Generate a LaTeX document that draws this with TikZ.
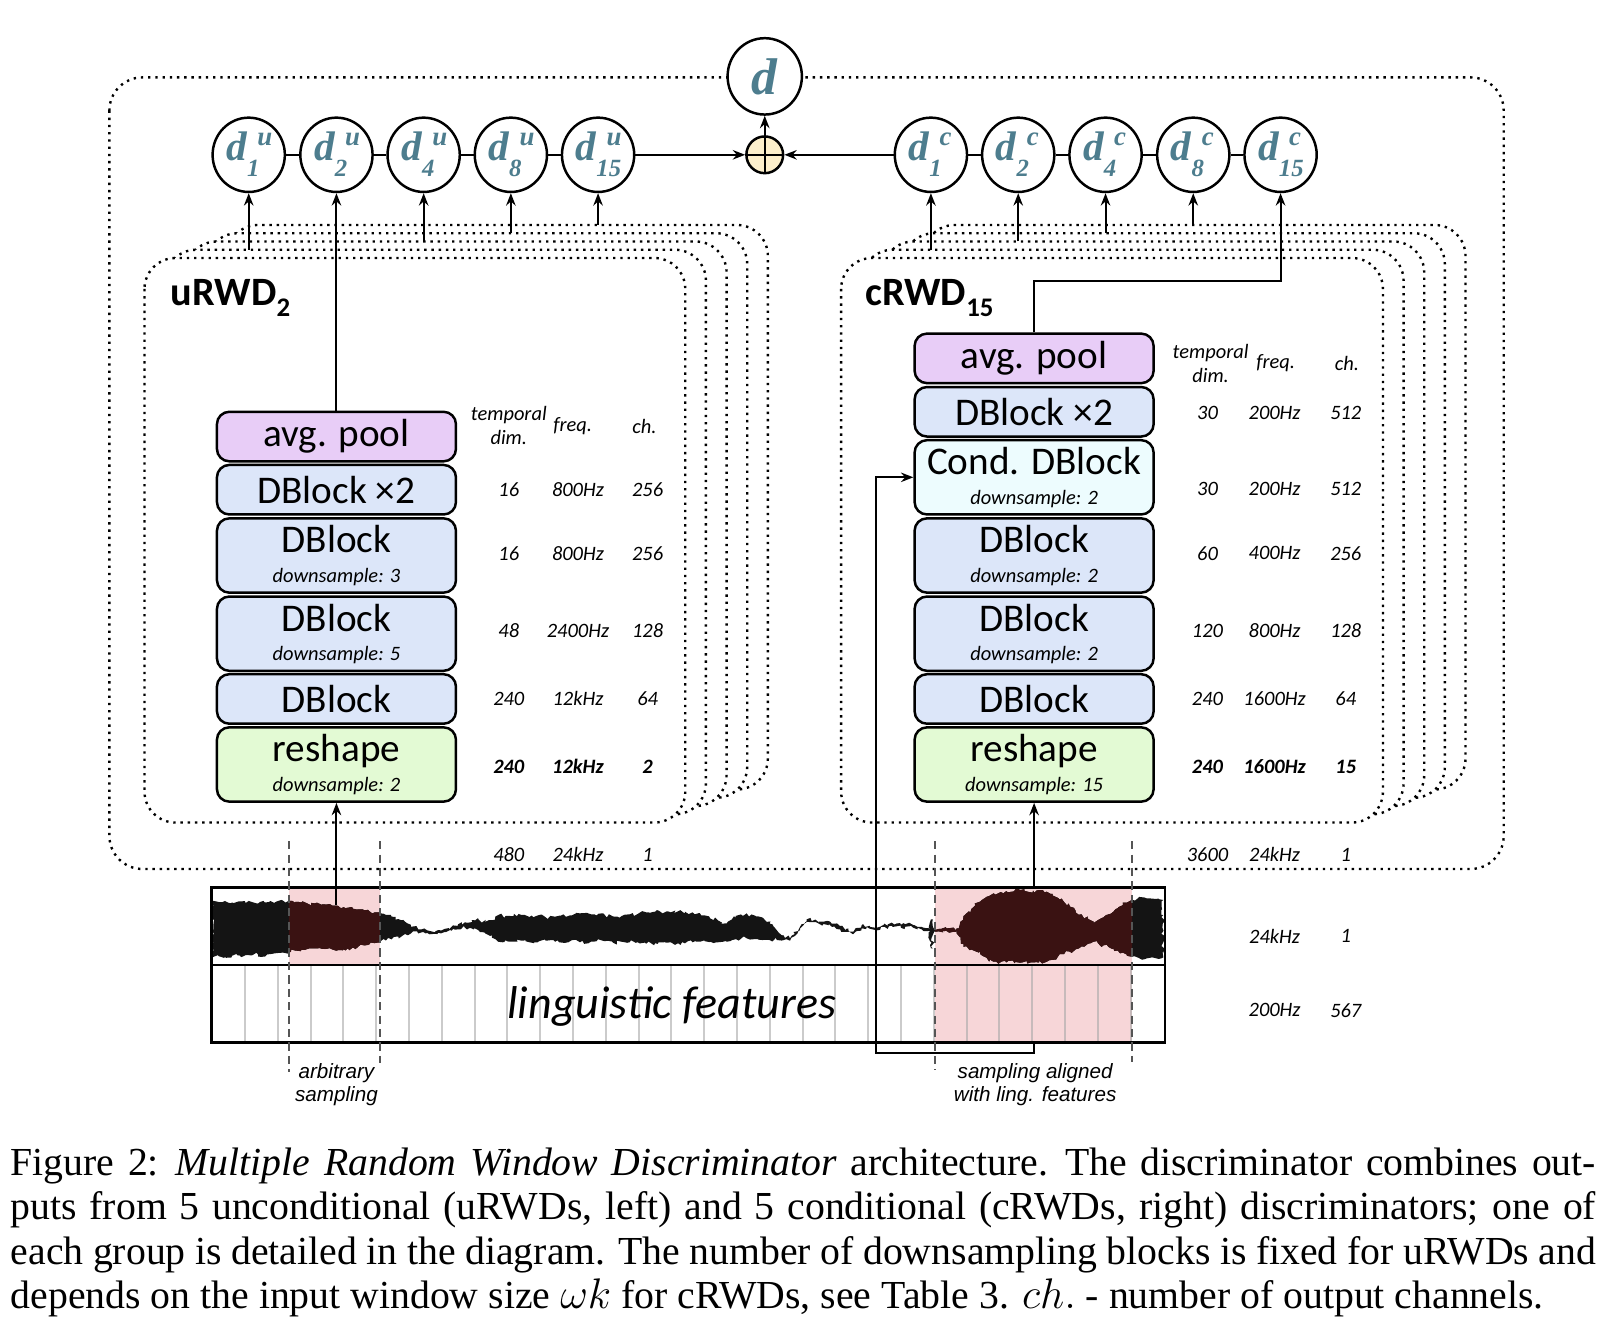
\documentclass[tikz,border=0pt]{standalone}
\usepackage{fontspec}
\setmainfont{Liberation Serif}
\newfontfamily\carl{Carlito}
\newfontfamily\arl{Liberation Sans}
\usetikzlibrary{arrows.meta,shapes.geometric,decorations.pathmorphing}
\definecolor{cpurple}{HTML}{E8CDF7}
\definecolor{cblue}{HTML}{DCE6F9}
\definecolor{ccyan}{HTML}{EDFCFE}
\definecolor{cgreen}{HTML}{E3FAD4}
\definecolor{cpink}{HTML}{F7D6D8}
\definecolor{cteal}{HTML}{4D7D8E}
\definecolor{cyel}{HTML}{FCEFCB}
\definecolor{cwave}{HTML}{141414}
\definecolor{cbrown}{HTML}{3A1212}
\definecolor{cgrid}{HTML}{A8A8A8}
\definecolor{cdash}{HTML}{555555}
\newcommand\dtxt[2]{{\fontsize{20}{20}\selectfont d}\rlap{\hspace{5pt}\raisebox{7.5pt}{\fontsize{13}{13}\selectfont #1}}\raisebox{-7.5pt}{\fontsize{12}{12}\selectfont #2}}
\newcommand\capline[1]{{\spaceskip=0.25em plus 0.2em minus 0.16em\xspaceskip=0.33em plus 0.2em minus 0.16em\makebox[768pt][s]{#1}}}
\newcommand\wavepath{(205.7,872.7) -- (212,874) -- (218,873) -- (225,874.5) -- (231,873.5) -- (238,875) -- (244,874) -- (250,875.5) -- (256.7,874.5) -- (262,873) -- (268,873.5) -- (274,872.5) -- (279.4,873) -- (286,874) -- (292,874.5) -- (298,875.5) -- (305,875.3) -- (311,876.5) -- (316,876.5) -- (322,877.5) -- (327.8,877.9) -- (333,879) -- (337,879.5) -- (342,880.5) -- (347,881.1) -- (353,882) -- (358,883) -- (363,884) -- (368.2,885) -- (374,886.5) -- (379.5,888.2) -- (386,890.5) -- (392.4,893.1) -- (398,896) -- (405.3,900.5) -- (414,901.5) -- (424.7,901.2) -- (431,900) -- (437.6,898) -- (444,895.5) -- (450.5,893.7) -- (457,891.5) -- (463.5,890.8) -- (470,893) -- (476.4,891.5) -- (480,888) -- (482.8,886.6) -- (490,887.5) -- (498,885.5) -- (505.5,886.6) -- (513,888.5) -- (521,887) -- (529,889) -- (537.8,888.2) -- (546,886) -- (554,887) -- (562,885) -- (570,885) -- (578,887) -- (586,886.5) -- (594,888) -- (602.3,887.6) -- (610,886) -- (618,885.5) -- (626,884) -- (634.7,883.4) -- (642,885) -- (650,884) -- (657,883) -- (663.7,883.4) -- (671,884) -- (678.3,885) -- (683,887) -- (688,889.8) -- (696,892) -- (704.1,894.7) -- (709,891) -- (713,889) -- (718,886) -- (723.5,885) -- (727,887) -- (731,887) -- (735,888) -- (739.7,889.8) -- (746,895) -- (752.6,901.2) -- (759,906) -- (765.5,909.2) -- (770,905) -- (775.2,898) -- (781.6,890.8) -- (790,891) -- (797.8,893.1) -- (806,895) -- (814,897.3) -- (820,900) -- (826.9,902.8) -- (831,899) -- (835,896.3) -- (843,897) -- (849,899) -- (852.7,898) -- (857,895) -- (860,897) -- (864,894) -- (868.9,894.7) -- (873,896) -- (877,895.5) -- (885,896.3) -- (893,898) -- (901.2,899.5) -- (902,890.8) -- (903.8,890.8) -- (904.6,899.5) -- (910,900) -- (917,899.5) -- (927,899.5) -- (930,896) -- (933.5,888.2) -- (941,881) -- (949.6,873.7) -- (956,869) -- (962.5,865.6) -- (975,863.5) -- (988.4,862.4) -- (1001,863) -- (1014.2,864) -- (1020,866) -- (1025,870) -- (1031,874) -- (1036.8,878.5) -- (1042,882) -- (1048,886) -- (1054,890) -- (1059.4,894.7) -- (1064,891.5) -- (1069,889) -- (1074,886) -- (1078.8,883.4) -- (1083,880) -- (1088,877) -- (1092,874.5) -- (1096.6,872) -- (1103,870) -- (1111,870.5) -- (1120,871) -- (1127.2,872) -- (1127.2,927.6) -- (1120,928.5) -- (1111,928.6) -- (1103,928) -- (1096.6,927) -- (1092,925) -- (1088,923) -- (1083,921) -- (1078.8,918.9) -- (1074,917.5) -- (1069,916) -- (1064,914) -- (1059.4,912.5) -- (1054,914.5) -- (1048,917) -- (1042,920) -- (1036.8,922.1) -- (1031,924.5) -- (1025,927) -- (1020,930) -- (1014.2,931.8) -- (1001,932.5) -- (988.4,932.8) -- (975,932.5) -- (962.5,931.8) -- (956,928) -- (949.6,922.1) -- (941,920) -- (933.5,917.3) -- (930,908) -- (927,902) -- (917,902) -- (910,902.5) -- (904.6,902) -- (903.8,918.9) -- (902,918.9) -- (901.2,902) -- (893,900.5) -- (885,899) -- (877,898) -- (873,899) -- (868.9,897.5) -- (864,897) -- (860,900) -- (857,898) -- (852.7,901) -- (849,901.5) -- (843,900) -- (835,899.5) -- (831,902) -- (826.9,905) -- (820,903) -- (814,900.5) -- (806,898) -- (797.8,895.3) -- (790,893.5) -- (781.6,893.1) -- (775.2,901.2) -- (770,907) -- (765.5,911.5) -- (759,911) -- (752.6,910.8) -- (746,911) -- (739.7,910.8) -- (735,910.5) -- (731,910) -- (727,910.5) -- (723.5,909.2) -- (718,909.5) -- (713,910) -- (709,911) -- (704.1,912.5) -- (696,913) -- (688,912.5) -- (683,912) -- (678.3,912.5) -- (671,913) -- (663.7,914) -- (657,914) -- (650,913) -- (642,913) -- (634.7,914) -- (626,914.5) -- (618,913) -- (610,913) -- (602.3,912.5) -- (594,913.5) -- (586,912) -- (578,912) -- (570,914) -- (562,913) -- (554,911) -- (546,913.5) -- (537.8,912.5) -- (529,911.5) -- (521,913) -- (513,913) -- (505.5,911.5) -- (498,912.5) -- (490,911) -- (482.8,912.5) -- (480,910) -- (476.4,906) -- (470,904) -- (463.5,901.2) -- (457,899.5) -- (450.5,898.9) -- (444,900.5) -- (437.6,901.8) -- (431,903) -- (424.7,903.7) -- (414,904) -- (405.3,904.4) -- (398,904.6) -- (392.4,905) -- (386,907.5) -- (379.5,910.2) -- (374,911.3) -- (368.2,912.5) -- (363,913.8) -- (358,915) -- (353,916) -- (347,917.3) -- (342,918) -- (337,919) -- (333,919.8) -- (327.8,920.5) -- (322,920) -- (316,919.5) -- (311,919.2) -- (305,919) -- (298,919.5) -- (292,920.5) -- (286,921) -- (279.4,922.1) -- (274,923) -- (268,923.5) -- (262,924.5) -- (256.7,927) -- (250,925) -- (244,925.8) -- (238,925.5) -- (231,926.3) -- (225,926) -- (218,927) -- (212,926.5) -- (205.7,927.6) -- cycle}
\begin{document}
\begin{tikzpicture}[x=0.5pt,y=-0.5pt,
  dotline/.style={line width=1.15pt, dash pattern=on 1.15pt off 2.35pt},
  arr/.style={line width=1pt, -{Stealth[length=6pt,width=4.6pt,inset=2pt]}},
  plainln/.style={line width=1pt},
  blk/.style={draw, line width=1.2pt, rounded corners=6pt, minimum width=115.8pt, inner sep=0pt, font=\carl\fontsize{19}{19}\selectfont},
  sgl/.style={blk, minimum height=24pt},
  dbl/.style={blk, minimum height=36pt},
  maintxt/.style={anchor=base, inner sep=0pt, font=\carl\fontsize{19}{19}\selectfont},
  subtxt/.style={anchor=base, inner sep=0pt, font=\carl\itshape\fontsize{9.9}{11}\selectfont},
  tabtxt/.style={inner sep=0pt, font=\carl\itshape\fontsize{9.9}{11.5}\selectfont, align=center},
  tabbold/.style={inner sep=0pt, font=\carl\bfseries\itshape\fontsize{9.9}{11.5}\selectfont},
  dc/.style={draw, ellipse, line width=1.2pt, fill=white, minimum width=35pt, minimum height=36pt, inner sep=0pt},
  dlab/.style={anchor=base west, inner sep=0pt, text=cteal, font=\rmfamily\bfseries\itshape},
  lbl/.style={anchor=base, inner sep=0pt, font=\arl\itshape\fontsize{10}{11}\selectfont},
  dsh/.style={cdash, line width=0.9pt, dash pattern=on 4pt off 2.5pt},
  capt/.style={anchor=base west, inner sep=0pt, font=\rmfamily\fontsize{19.25}{21.4}\selectfont},
  ttl/.style={anchor=base west, inner sep=0pt, font=\carl\bfseries\fontsize{19.5}{19.5}\selectfont},
  wavedeco/.style={decorate, decoration={random steps,segment length=1.3pt,amplitude=1.05pt}}
]
\useasboundingbox (0,0) rectangle (1560,1289);

% outer dotted frame
\draw[dotline, rounded corners=16pt] (106,75) rectangle (1457,842);

% stacked discriminator frames
\foreach \i in {4,3,2,1} {
  \draw[dotline, fill=white, rounded corners=15pt] ({140+20*\i},{250-8*\i}) rectangle ({664+20*\i},{797-8*\i});
  \draw[dotline, fill=white, rounded corners=15pt] ({815+20*\i},{250-8*\i}) rectangle ({1340+20*\i},{797-8*\i});
}
\draw[dotline, fill=white, rounded corners=15pt] (140,250) rectangle (664,797);
\draw[dotline, fill=white, rounded corners=15pt] (815,250) rectangle (1340,797);

\node[ttl] (ut) at (165,296) {uRWD\raisebox{-5.5pt}{\fontsize{13}{13}\selectfont 2}};
\node[ttl] (ct) at (838,296) {cRWD\raisebox{-5.5pt}{\fontsize{13}{13}\selectfont 15}};

% output circles
\foreach \n/\x in {1/241, 2/326, 4/410.5, 8/495, 15/579.5} {
  \node[dc] (du\n) at (\x,150) {};
  \node[dlab] (tu\n) at ([xshift=-11pt,yshift=-2.9pt]du\n.center) {\dtxt{u}{\n}};
}
\foreach \n/\x in {1/902, 2/986.6, 4/1071.2, 8/1156.2, 15/1240.8} {
  \node[dc] (dc\n) at (\x,150) {};
  \node[dlab] (tc\n) at ([xshift=-11pt,yshift=-2.9pt]dc\n.center) {\dtxt{c}{\n}};
}
\draw[plainln] (du1) -- (du2);
\draw[plainln] (du2) -- (du4);
\draw[plainln] (du4) -- (du8);
\draw[plainln] (du8) -- (du15);
\draw[plainln] (dc1) -- (dc2);
\draw[plainln] (dc2) -- (dc4);
\draw[plainln] (dc4) -- (dc8);
\draw[plainln] (dc8) -- (dc15);

\node[draw, circle, line width=1.2pt, fill=cyel, minimum size=17.8pt, inner sep=0pt] (op) at (741,150) {};
\draw[line width=1.2pt] (op.north) -- (op.south) (op.west) -- (op.east);
\node[dc, minimum width=36pt, minimum height=37pt, text=cteal, font=\rmfamily\bfseries\itshape\fontsize{25}{25}\selectfont] (dd) at (741,74) {d};
\draw[arr] (du15) -- (op);
\draw[arr] (dc1) -- (op);
\draw[arr] (op) -- (dd);

% arrows from the hidden discriminators
\coordinate (ub1) at (241,242);
\coordinate (ub4) at (410.5,234);
\coordinate (ub8) at (495,226);
\coordinate (ub15) at (579.5,218);
\draw[arr] (ub1) -- (du1);
\draw[arr] (ub4) -- (du4);
\draw[arr] (ub8) -- (du8);
\draw[arr] (ub15) -- (du15);
\coordinate (cb1) at (902,242);
\coordinate (cb2) at (986.6,234);
\coordinate (cb4) at (1071.2,226);
\coordinate (cb8) at (1156.2,218);
\draw[arr] (cb1) -- (dc1);
\draw[arr] (cb2) -- (dc2);
\draw[arr] (cb4) -- (dc4);
\draw[arr] (cb8) -- (dc8);

% uRWD blocks
\node[sgl, fill=cpurple] (uavg) at (326,423) {avg. pool};
\node[sgl, fill=cblue] (ux2) at (326,474.5) {DBlock ×2};
\node[dbl, fill=cblue] (ud3) at (326,538.25) {};
\node[dbl, fill=cblue] (ud5) at (326,614) {};
\node[sgl, fill=cblue] (ud1) at (326,677.25) {DBlock};
\node[dbl, fill=cgreen] (urs) at (326,740.75) {};
\node[maintxt] (ud3a) at (326,535.5) {DBlock};
\node[subtxt] (ud3b) at (326,564) {downsample: 3};
\node[maintxt] (ud5a) at (326,611.5) {DBlock};
\node[subtxt] (ud5b) at (326,640) {downsample: 5};
\node[maintxt] (ursa) at (326,738) {reshape};
\node[subtxt] (ursb) at (326,766.5) {downsample: 2};
\draw[arr] (uavg) -- (du2);

% cRWD blocks
\node[sgl, fill=cpurple] (cavg) at (1002,347.25) {avg. pool};
\node[sgl, fill=cblue] (cx2) at (1002,399) {DBlock ×2};
\node[dbl, fill=ccyan] (ccond) at (1002,462.5) {};
\node[dbl, fill=cblue] (cda) at (1002,538.25) {};
\node[dbl, fill=cblue] (cdb) at (1002,614) {};
\node[sgl, fill=cblue] (cd1) at (1002,677.25) {DBlock};
\node[dbl, fill=cgreen] (crs) at (1002,740.75) {};
\node[maintxt] (ccondA) at (1002,460) {Cond. DBlock};
\node[subtxt] (ccondB) at (1002,488.5) {downsample: 2};
\node[maintxt] (cdaA) at (1002,535.5) {DBlock};
\node[subtxt] (cdaB) at (1002,564) {downsample: 2};
\node[maintxt] (cdbA) at (1002,611.5) {DBlock};
\node[subtxt] (cdbB) at (1002,640) {downsample: 2};
\node[maintxt] (crsA) at (1002,738) {reshape};
\node[subtxt] (crsB) at (1002,766.5) {downsample: 15};
\coordinate (cturn) at (1240.8,272);
\draw[arr] (cavg.north) |- (cturn) -- (dc15);

% tables
\node[tabtxt] (uh1) at (493,412.5) {temporal\\dim.};
\node[tabtxt] (uh2) at (555,413) {freq.};
\node[tabtxt] (uh3) at (624.5,413) {ch.};
\foreach \y/\a/\b/\c [count=\i] in {474/16/800Hz/256, 536/16/800Hz/256, 611/48/2400Hz/128, 677/240/12kHz/64, 828/480/24kHz/1} {
  \node[tabtxt] (uta\i) at (493,\y) {\a};
  \node[tabtxt] (utb\i) at (560,\y) {\b};
  \node[tabtxt] (utc\i) at (627.5,\y) {\c};
}
\node[tabbold] (utab) at (493,743) {240};
\node[tabbold] (utbb) at (560,743) {12kHz};
\node[tabbold] (utcb) at (627.5,743) {2};

\node[tabtxt] (ch1) at (1173,352) {temporal\\dim.};
\node[tabtxt] (ch2) at (1236,352) {freq.};
\node[tabtxt] (ch3) at (1305,352) {ch.};
\foreach \y/\a/\b/\c [count=\i] in {400/30/200Hz/512, 474/30/200Hz/512, 536/60/400Hz/256, 611/120/800Hz/128, 677/240/1600Hz/64, 828/3600/24kHz/1} {
  \node[tabtxt] (cta\i) at (1170,\y) {\a};
  \node[tabtxt] (ctb\i) at (1235,\y) {\b};
  \node[tabtxt] (ctc\i) at (1304,\y) {\c};
}
\node[tabbold] (ctab) at (1170,743) {240};
\node[tabbold] (ctbb) at (1235,743) {1600Hz};
\node[tabbold] (ctcb) at (1304,743) {15};
\node[tabtxt] (wf1) at (1235,907) {24kHz};
\node[tabtxt] (wf2) at (1304,907) {1};
\node[tabtxt] (lf1) at (1235,979) {200Hz};
\node[tabtxt] (lf2) at (1304,979) {567};

% input strip
\fill[cpink] (280,860) rectangle (368,935);
\fill[cpink] (906,860) rectangle (1097,1010);
\foreach \k in {0,...,27} \draw[cgrid, line width=1pt, opacity=0.6] ({237.4+31.78*\k},935) -- ({237.4+31.78*\k},1010);
\node[anchor=base, inner sep=0pt, font=\carl\itshape\fontsize{22.3}{22}\selectfont] (lf) at (651,987) {linguistic features};
\pgfmathsetseed{11}
\fill[cwave, wavedeco] \wavepath;
\begin{scope}
\clip (280,860) rectangle (368,935) (906,860) rectangle (1097,935);
\pgfmathsetseed{11}
\fill[cbrown, wavedeco] \wavepath;
\end{scope}
\draw[line width=1.25pt] (205,860) rectangle (1129,1010);
\draw[line width=1.25pt] (205,935) -- (1129,935);

\draw[dsh] (280,815) -- (280,1039);
\draw[dsh] (368,815) -- (368,1030);
\draw[dsh] (906,815) -- (906,1037);
\draw[dsh] (1097,815) -- (1097,1029);

\coordinate (uin) at (326,877);
\draw[arr] (uin) -- (urs.south);
\coordinate (cin) at (1002,860);
\draw[arr] (cin) -- (crs.south);
\coordinate (cbot) at (1002,1010);
\coordinate (cleft) at (849,1020);
\draw[arr] (cbot) |- (cleft) |- (ccond.west);

\node[lbl] (arb1) at (326,1045) {arbitrary};
\node[lbl] (arb2) at (326,1067) {sampling};
\node[lbl] (sal1) at (1003,1045) {sampling aligned};
\node[lbl] (sal2) at (1003,1067) {with ling. features};

% caption
\node[capt] (cap1) at (10,1139) {\capline{Figure 2: \textit{Multiple Random Window Discriminator} architecture. The discriminator combines out-}};
\node[capt] (cap2) at (10,1182) {\capline{puts from 5 unconditional (uRWDs, left) and 5 conditional (cRWDs, right) discriminators; one of}};
\node[capt] (cap3) at (10,1225) {\capline{each group is detailed in the diagram. The number of downsampling blocks is fixed for uRWDs and}};
\node[capt] (cap4) at (10,1268) {depends on the input window size $\omega k$ for cRWDs, see Table 3. $ch.$ - number of output channels.};
\end{tikzpicture}
\end{document}
